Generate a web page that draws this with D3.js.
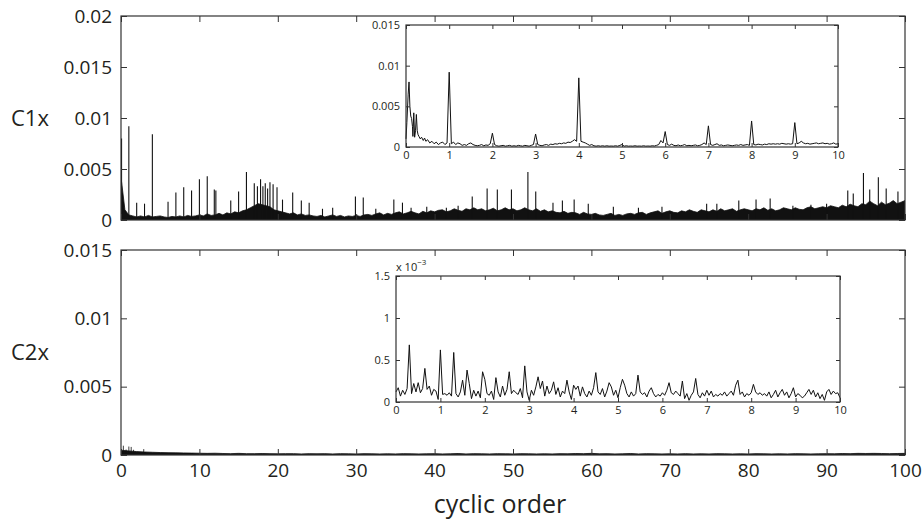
<!DOCTYPE html>
<html lang="en">
<head>
<meta charset="UTF-8">
<title>C1x / C2x against cyclic order</title>
<style>
body { margin: 0; background: #fff; overflow: hidden; }
text { font-family: "Open Sans", "Noto Sans", sans-serif; fill: #231f20; }
.frame { fill: none; stroke: #333; stroke-width: 1.2px; }
.tick line { stroke: #333; stroke-width: 1px; }
.trace { fill: none; stroke: #111; stroke-width: 1px; stroke-linejoin: round; }
.band { fill: #111; stroke: #111; stroke-width: 0.8px; }
.spike { stroke: #111; stroke-width: 1.1px; }
</style>
</head>
<body>
<svg id="chart" width="923" height="523"></svg>
<script src="https://d3js.org/d3.v7.min.js"></script>
<script>
// ---- data ----
const mainXTicks = [0, 10, 20, 30, 40, 50, 60, 70, 80, 90, 100];
const c1xTicks = [0, 0.005, 0.01, 0.015, 0.02];
const c2xTicks = [0, 0.005, 0.01, 0.015];
const insetXTicks = [0, 1, 2, 3, 4, 5, 6, 7, 8, 9, 10];
const insetC1Ticks = [0, 0.005, 0.01, 0.015];
const insetC2Ticks = [0, 0.5, 1, 1.5];   // x 10^-3

// C1x dense band, upper edge (x 10^-3), one value every 0.5 cyclic order from 0 to 100
const c1xBandStep = 0.5;
const c1xBand = [
  4.2, 1.0, 0.5, 0.4, 0.3, 0.4, 0.3, 0.45, 0.3, 0.35, 0.4, 0.3, 0.25, 0.35, 0.3, 0.4, 0.3, 0.45, 0.35, 0.4,
  0.5, 0.4, 0.6, 0.45, 0.5, 0.65, 0.5, 0.7, 0.6, 0.8, 0.7, 0.9, 1.0, 1.2, 1.4, 1.6, 1.5, 1.4, 1.3, 1.0,
  0.9, 0.8, 0.7, 0.6, 0.7, 0.5, 0.6, 0.45, 0.5, 0.4, 0.35, 0.45, 0.3, 0.4, 0.5, 0.35, 0.45, 0.3, 0.4, 0.35,
  0.45, 0.35, 0.5, 0.55, 0.45, 0.6, 0.7, 0.5, 0.65, 0.55, 0.7, 0.8, 0.6, 0.7, 0.85, 0.7, 0.6, 0.85, 0.7, 0.9,
  0.8, 0.95, 1.0, 0.8, 0.9, 1.1, 0.95, 0.85, 1.1, 1.0, 1.2, 1.0, 1.1, 0.9, 1.0, 1.15, 0.9, 1.0, 1.2, 1.0,
  1.1, 0.9, 1.0, 1.2, 1.0, 0.9, 1.1, 0.85, 1.0, 0.8, 0.9, 0.75, 0.7, 0.85, 0.65, 0.75, 0.7, 0.55, 0.75, 0.6,
  0.55, 0.65, 0.5, 0.45, 0.55, 0.65, 0.45, 0.55, 0.45, 0.6, 0.65, 0.55, 0.7, 0.75, 0.55, 0.7, 0.8, 0.9, 0.65, 0.8,
  0.9, 0.75, 0.7, 0.9, 0.8, 1.0, 0.85, 0.75, 1.0, 0.9, 0.8, 1.0, 0.85, 1.1, 0.9, 1.0, 1.1, 0.85, 1.0, 1.1,
  1.0, 0.9, 1.1, 1.0, 1.2, 0.95, 1.1, 0.9, 1.0, 1.2, 1.1, 1.0, 1.2, 1.05, 1.0, 1.2, 1.3, 1.1, 1.2, 1.3,
  1.2, 1.4, 1.3, 1.2, 1.45, 1.3, 1.55, 1.4, 1.3, 1.6, 1.5, 1.85, 1.6, 1.4, 1.75, 1.5, 1.65, 1.9, 1.6, 1.75,
  1.9
];
// C1x isolated peaks: position and height (x 10^-3)
const c1xSpikeX = [0.07, 1.0, 2.0, 3.0, 4.0, 6.0, 7.0, 8.0, 9.0, 10.0, 11.0, 11.9, 12.1, 14.0, 15.0, 16.0,
  17.0, 17.4, 17.8, 18.1, 18.4, 18.7, 19.0, 19.4, 19.9, 20.6, 21.9, 23.0, 24.0, 25.7, 27.0, 29.9, 30.9,
  32.5, 34.8, 35.9, 37.0, 39.0, 41.5, 43.0, 44.8, 46.7, 48.0, 49.8, 51.9, 52.9, 55.1, 56.3, 57.8, 59.6,
  62.8, 66.0, 69.0, 74.7, 76.0, 78.8, 81.0, 82.8, 85.7, 88.0, 90.0, 92.7, 93.4, 94.7, 95.5, 96.6, 97.6, 99.1];
const c1xSpikeY = [8.0, 9.2, 1.7, 1.6, 8.4, 1.8, 2.7, 3.2, 2.9, 4.0, 4.3, 3.0, 2.9, 1.9, 2.8, 4.7,
  3.6, 3.3, 4.0, 3.3, 3.6, 3.1, 3.7, 3.5, 3.2, 2.0, 2.7, 1.9, 1.7, 1.1, 1.2, 2.3, 2.2,
  1.1, 2.0, 1.7, 1.2, 1.3, 1.2, 1.4, 2.3, 3.1, 3.0, 3.0, 4.7, 2.8, 1.7, 1.9, 2.0, 1.6,
  1.3, 1.2, 1.3, 1.6, 1.6, 1.9, 2.0, 2.1, 1.4, 1.5, 1.6, 2.9, 2.6, 4.6, 3.0, 4.2, 3.1, 2.8];

// C2x band upper edge (x 10^-3), one value per cyclic order 0..100
const c2xBand = [
  0.35, 0.3, 0.25, 0.22, 0.2, 0.18, 0.17, 0.16, 0.15, 0.14,
  0.13, 0.12, 0.13, 0.11, 0.1, 0.12, 0.1, 0.1, 0.11, 0.1,
  0.09, 0.1, 0.1, 0.08, 0.1, 0.09, 0.1, 0.08, 0.1, 0.09,
  0.08, 0.1, 0.09, 0.08, 0.09, 0.08, 0.1, 0.09, 0.08, 0.09,
  0.1, 0.08, 0.09, 0.11, 0.08, 0.1, 0.09, 0.08, 0.1, 0.09,
  0.08, 0.1, 0.09, 0.08, 0.09, 0.08, 0.1, 0.09, 0.11, 0.1,
  0.12, 0.09, 0.1, 0.08, 0.09, 0.11, 0.08, 0.1, 0.09, 0.08,
  0.09, 0.08, 0.1, 0.08, 0.09, 0.08, 0.1, 0.09, 0.08, 0.09,
  0.08, 0.1, 0.09, 0.08, 0.09, 0.08, 0.1, 0.09, 0.08, 0.09,
  0.1, 0.09, 0.11, 0.1, 0.12, 0.11, 0.12, 0.11, 0.1, 0.11, 0.12
];
const c2xSpikeX = [0.3, 0.65, 1.0, 1.3, 1.6, 2.9];
const c2xSpikeY = [0.68, 0.4, 0.62, 0.59, 0.38, 0.43];

// C1x zoom 0..10: fine start, then one value every 0.05 from 0.55 (x 10^-3)
const inset1HeadX = [0, 0.02, 0.05, 0.07, 0.09, 0.11, 0.13, 0.15, 0.16, 0.18, 0.20, 0.22, 0.24, 0.26, 0.28, 0.30, 0.33, 0.36, 0.40, 0.43, 0.46, 0.50];
const inset1HeadY = [1.0, 3.0, 6.5, 8.0, 5.0, 3.8, 3.5, 2.5, 1.3, 4.2, 1.2, 2.0, 4.0, 2.0, 1.5, 1.3, 1.0, 1.2, 0.8, 1.1, 0.7, 0.9];
const inset1Start = 0.55, inset1Step = 0.05;
const inset1Y = [
  0.5, 0.7, 0.4, 0.6, 0.3, 0.5, 0.6, 0.3, 0.5,
  9.2, 0.4, 0.6, 0.3, 0.5, 0.4, 0.2, 0.3, 0.2, 0.4, 0.5, 0.3, 0.2, 0.15, 0.2, 0.3, 0.15, 0.25, 0.2, 0.4,
  1.7, 0.3, 0.15, 0.1, 0.15, 0.2, 0.1, 0.15, 0.2, 0.1, 0.15, 0.1, 0.2, 0.15, 0.1, 0.2, 0.15, 0.1, 0.2, 0.3,
  1.6, 0.3, 0.2, 0.15, 0.25, 0.3, 0.2, 0.35, 0.3, 0.4, 0.35, 0.45, 0.4, 0.5, 0.45, 0.6, 0.55, 0.7, 0.9, 0.7,
  8.5, 0.7, 0.6, 0.5, 0.35, 0.2, 0.3, 0.15, 0.1, 0.15, 0.1, 0.15, 0.1, 0.15, 0.1, 0.12, 0.1, 0.15, 0.1, 0.2,
  0.3, 0.1, 0.15, 0.1, 0.12, 0.1, 0.15, 0.1, 0.12, 0.1, 0.15, 0.1, 0.12, 0.1, 0.15, 0.12, 0.2, 0.3, 0.8, 0.5,
  1.9, 0.3, 0.2, 0.35, 0.2, 0.15, 0.25, 0.15, 0.2, 0.3, 0.15, 0.2, 0.15, 0.2, 0.25, 0.15, 0.2, 0.3, 0.5, 0.3,
  2.6, 0.3, 0.2, 0.3, 0.4, 0.2, 0.25, 0.15, 0.2, 0.25, 0.2, 0.15, 0.2, 0.25, 0.2, 0.3, 0.2, 0.25, 0.3, 0.2,
  3.2, 0.3, 0.25, 0.35, 0.3, 0.25, 0.35, 0.3, 0.4, 0.35, 0.4, 0.35, 0.4, 0.35, 0.45, 0.4, 0.35, 0.4, 0.35, 0.4,
  3.0, 0.4, 0.5, 0.7, 0.5, 0.4, 0.45, 0.35, 0.4, 0.45, 0.5, 0.4, 0.45, 0.5, 0.4, 0.45, 0.35, 0.4, 0.5, 0.35,
  0.4
];

// C2x zoom 0..10, one value every 0.05 (x 10^-3)
const inset2Step = 0.05;
const inset2Y = [
  0.12, 0.17, 0.07, 0.14, 0.09, 0.16, 0.68, 0.10, 0.22, 0.12, 0.23, 0.11, 0.16, 0.40, 0.15, 0.19, 0.08, 0.15, 0.13, 0.03,
  0.62, 0.09, 0.10, 0.08, 0.11, 0.07, 0.59, 0.10, 0.06, 0.12, 0.26, 0.08, 0.38, 0.22, 0.04, 0.14, 0.07, 0.13, 0.05, 0.36,
  0.27, 0.10, 0.08, 0.13, 0.03, 0.29, 0.12, 0.06, 0.19, 0.08, 0.15, 0.36, 0.10, 0.14, 0.11, 0.09, 0.16, 0.05, 0.43, 0.12,
  0.02, 0.14, 0.08, 0.18, 0.30, 0.16, 0.25, 0.07, 0.19, 0.10, 0.14, 0.24, 0.09, 0.17, 0.06, 0.13, 0.10, 0.26, 0.12, 0.03,
  0.20, 0.15, 0.19, 0.07, 0.18, 0.10, 0.06, 0.13, 0.08, 0.17, 0.35, 0.12, 0.09, 0.16, 0.06, 0.13, 0.23, 0.18, 0.08, 0.14,
  0.05, 0.17, 0.27, 0.20, 0.10, 0.06, 0.12, 0.07, 0.10, 0.32, 0.12, 0.09, 0.11, 0.06, 0.13, 0.17, 0.10, 0.06, 0.09, 0.07,
  0.11, 0.08, 0.14, 0.23, 0.11, 0.09, 0.13, 0.10, 0.07, 0.25, 0.04, 0.10, 0.02, 0.08, 0.12, 0.28, 0.09, 0.05, 0.11, 0.07,
  0.14, 0.08, 0.13, 0.06, 0.09, 0.07, 0.10, 0.08, 0.12, 0.07, 0.10, 0.13, 0.08, 0.20, 0.26, 0.09, 0.12, 0.06, 0.10, 0.08,
  0.11, 0.21, 0.12, 0.09, 0.11, 0.08, 0.10, 0.07, 0.12, 0.05, 0.09, 0.14, 0.06, 0.11, 0.15, 0.08, 0.12, 0.05, 0.10, 0.17,
  0.06, 0.10, 0.08, 0.05, 0.07, 0.11, 0.15, 0.09, 0.14, 0.06, 0.11, 0.04, 0.09, 0.02, 0.12, 0.15, 0.09, 0.13, 0.10, 0.11,
  0.05
];

// ---- layout ----
const svg = d3.select("#chart");
const E3 = 1e-3;

const x = d3.scaleLinear().domain([0, 100]).range([121, 905]);
const yC1 = d3.scaleLinear().domain([0, 0.02]).range([220, 16]);
const yC2 = d3.scaleLinear().domain([0, 0.015]).range([455, 250]);

const xIn1 = d3.scaleLinear().domain([0, 10]).range([406, 838]);
const yIn1 = d3.scaleLinear().domain([0, 0.015]).range([147, 25]);
const xIn2 = d3.scaleLinear().domain([0, 10]).range([396, 840]);
const yIn2 = d3.scaleLinear().domain([0, 1.5]).range([402, 276]);

const fmt = d => String(d);

// box with ticks pointing inwards on all four sides
function box(g, xs, ys, xTicks, yTicks, opt) {
  const [x0, x1] = xs.range();
  const [y0, y1] = ys.range(); // y0 bottom, y1 top
  const ax = (a, tx, ty) => {
    const s = g.append("g").attr("transform", `translate(${tx},${ty})`).call(a);
    s.select(".domain").remove();
    return s;
  };
  const L = ax(d3.axisLeft(ys).tickValues(yTicks).tickSizeInner(-opt.tick).tickSizeOuter(0)
    .tickPadding(opt.padY).tickFormat(fmt), x0, 0);
  ax(d3.axisRight(ys).tickValues(yTicks).tickSizeInner(-opt.tick).tickSizeOuter(0).tickFormat(""), x1, 0);
  ax(d3.axisTop(xs).tickValues(xTicks).tickSizeInner(-opt.tick).tickSizeOuter(0).tickFormat(""), 0, y1);
  const B = ax(d3.axisBottom(xs).tickValues(xTicks).tickSizeInner(-opt.tick).tickSizeOuter(0)
    .tickPadding(opt.padX).tickFormat(opt.xLabels ? fmt : ""), 0, y0);
  [L, B].forEach(s => s.selectAll("text").style("font-size", opt.font + "px")
    .style("font-family", '"Open Sans", "Noto Sans", sans-serif').attr("fill", "#231f20"));
  g.append("rect").attr("class", "frame")
    .attr("x", x0).attr("y", y1).attr("width", x1 - x0).attr("height", y0 - y1);
}

// clip for main panels
const defs = svg.append("defs");
defs.append("clipPath").attr("id", "clipC1").append("rect")
  .attr("x", 121).attr("y", 16).attr("width", 784).attr("height", 204);
defs.append("clipPath").attr("id", "clipC2").append("rect")
  .attr("x", 121).attr("y", 250).attr("width", 784).attr("height", 205);

// ---- C1x main panel ----
const gC1 = svg.append("g");
const c1Data = gC1.append("g").attr("clip-path", "url(#clipC1)");
c1Data.append("path").attr("class", "band")
  .datum(c1xBand)
  .attr("d", d3.area()
    .x((d, i) => x(i * c1xBandStep))
    .y0(yC1(0))
    .y1(d => yC1(d * E3)));
c1Data.selectAll("line.spike").data(c1xSpikeX).join("line").attr("class", "spike")
  .attr("x1", d => x(d)).attr("x2", d => x(d))
  .attr("y1", yC1(0)).attr("y2", (d, i) => yC1(c1xSpikeY[i] * E3));
box(gC1, x, yC1, mainXTicks, c1xTicks, { tick: 6, padY: 9, padX: 8, font: 19, xLabels: false });

// C1x inset
const gI1 = svg.append("g");
gI1.append("rect").attr("x", xIn1(0)).attr("y", yIn1(0.015))
  .attr("width", xIn1(10) - xIn1(0)).attr("height", yIn1(0) - yIn1(0.015)).attr("fill", "#fff");
const in1Pts = inset1HeadX.map((d, i) => [d, inset1HeadY[i]])
  .concat(inset1Y.map((d, i) => [inset1Start + i * inset1Step, d]));
gI1.append("path").attr("class", "trace").datum(in1Pts)
  .attr("d", d3.line().x(d => xIn1(Math.min(d[0], 10))).y(d => yIn1(d[1] * E3)));
box(gI1, xIn1, yIn1, insetXTicks, insetC1Ticks, { tick: 4, padY: 6, padX: 4, font: 11, xLabels: true });

// ---- C2x main panel ----
const gC2 = svg.append("g");
const c2Data = gC2.append("g").attr("clip-path", "url(#clipC2)");
c2Data.append("path").attr("class", "band")
  .datum(c2xBand)
  .attr("d", d3.area()
    .x((d, i) => x(i))
    .y0(yC2(0))
    .y1(d => yC2(d * E3)));
c2Data.selectAll("line.spike").data(c2xSpikeX).join("line").attr("class", "spike")
  .attr("x1", d => x(d)).attr("x2", d => x(d))
  .attr("y1", yC2(0)).attr("y2", (d, i) => yC2(c2xSpikeY[i] * E3))
  .style("stroke-width", "0.8px");
box(gC2, x, yC2, mainXTicks, c2xTicks, { tick: 6, padY: 9, padX: 9, font: 19, xLabels: true });

// C2x inset
const gI2 = svg.append("g");
gI2.append("rect").attr("x", xIn2(0)).attr("y", yIn2(1.5))
  .attr("width", xIn2(10) - xIn2(0)).attr("height", yIn2(0) - yIn2(1.5)).attr("fill", "#fff");
gI2.append("path").attr("class", "trace").datum(inset2Y)
  .attr("d", d3.line().x((d, i) => xIn2(i * inset2Step)).y(d => yIn2(d)));
box(gI2, xIn2, yIn2, insetXTicks, insetC2Ticks, { tick: 4, padY: 6, padX: 4, font: 11, xLabels: true });
const mult = gI2.append("text").attr("x", 396).attr("y", 271).style("font-size", "11px");
mult.append("tspan").text("x 10");
mult.append("tspan").attr("dy", -6).style("font-size", "8px").text("\u22123");

// ---- labels ----
svg.append("text").attr("x", 11).attr("y", 126).style("font-size", "22px").text("C1x");
svg.append("text").attr("x", 11).attr("y", 360).style("font-size", "22px").text("C2x");
svg.append("text").attr("x", 500).attr("y", 513).attr("text-anchor", "middle")
  .style("font-size", "25px").text("cyclic order");
</script>
</body>
</html>
